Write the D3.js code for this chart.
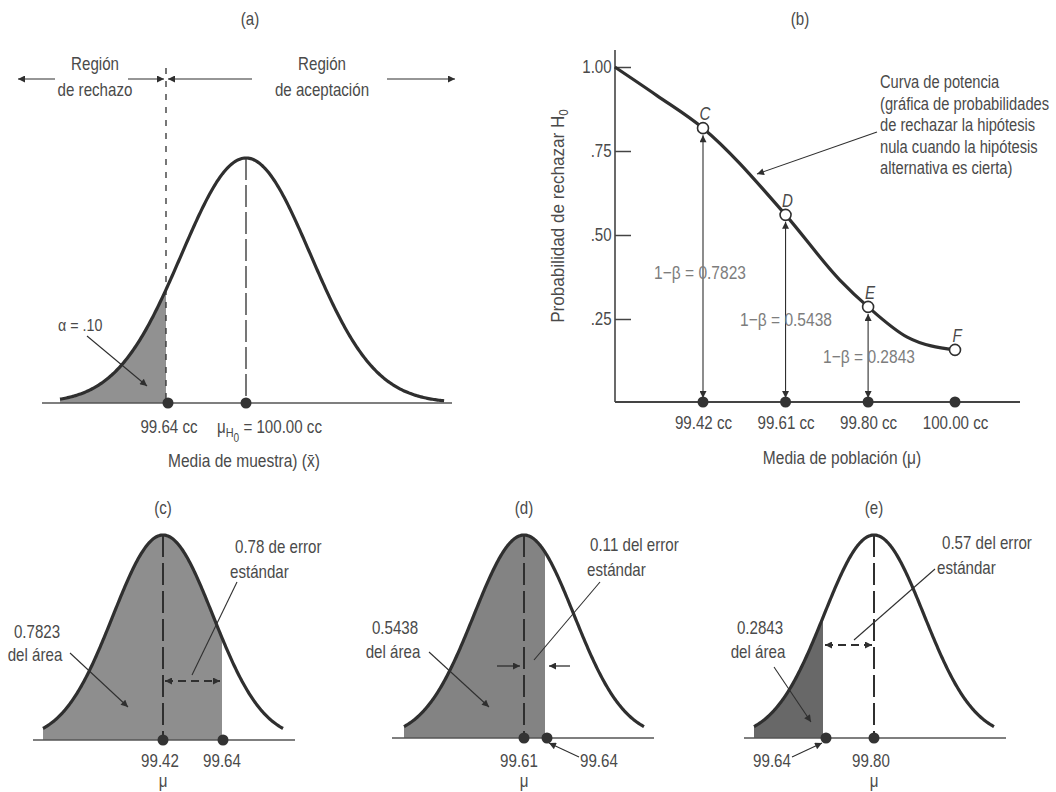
<!DOCTYPE html>
<html><head><meta charset="utf-8">
<script src="https://cdn.jsdelivr.net/npm/d3@7"></script>
<style>
html,body{margin:0;padding:0;background:#fff;}
svg{display:block;}
text{font-family:"Liberation Sans",Arial,Helvetica,sans-serif;fill:#4a4a4a;}
</style></head>
<body>
<svg id="chart" width="1056" height="792"></svg>
<script>
// ---------------- DATA ----------------
// Panel (a): sampling distribution under H0
const aMean = 100.00;
const aCutoff = 99.64;
const aSd = 0.29;            // standard error (display)
const aAlphaLabel = "α  =  .10";
const aTickLabels = ["99.64 cc", "100.00 cc"];

// Panel (b): power curve
const powerMu = [99.217, 99.314, 99.42, 99.61, 99.735, 99.80, 99.89, 100.00];
const powerP  = [1.00,   0.915,  0.818, 0.56,  0.366,  0.286, 0.196, 0.158];
const markMu = [99.42, 99.61, 99.80, 100.00];
const markP  = [0.818, 0.56, 0.286, 0.158];
const markLetters = ["C", "D", "E", "F"];
const markLabels = ["99.42 cc", "99.61 cc", "99.80 cc", "100.00 cc"];
const powerValues = [0.7823, 0.5438, 0.2843];
const yTickVals = [0.25, 0.50, 0.75, 1.00];
const yTickLabels = [".25", ".50", ".75", "1.00"];
const annotLines = ["Curva de potencia", "(gráfica de probabilidades", "de rechazar la hipótesis", "nula cuando la hipótesis", "alternativa es cierta)"];

// Panels (c), (d), (e): distributions under the alternative means
const altTitles = ["(c)", "(d)", "(e)"];
const altMeans = [99.42, 99.61, 99.80];
const altCutoff = 99.64;
const altAreas = ["0.7823", "0.5438", "0.2843"];
const altSeText = ["0.78 de error", "0.11 del error", "0.57 del error"];
const altMeanLabels = ["99.42", "99.61", "99.80"];
const altCutLabel = "99.64";

// ---------------- DRAW ----------------
const svg = d3.select("#chart");
const ink = "#2f2f2f";
const SX = 0.84;   // condensed type

const defs = svg.append("defs");
defs.append("marker").attr("id","arr").attr("viewBox","0 0 10 10")
  .attr("refX",10).attr("refY",5).attr("markerUnits","userSpaceOnUse")
  .attr("markerWidth",11).attr("markerHeight",7).attr("orient","auto-start-reverse")
  .append("path").attr("d","M0,0 L10,5 L0,10 Z").attr("fill",ink);

function line(g, x1,y1,x2,y2, opts={}) {
  const l = g.append("line").attr("x1",x1).attr("y1",y1).attr("x2",x2).attr("y2",y2)
    .attr("stroke", opts.color||ink).attr("stroke-width", opts.w||1.2);
  if (opts.dash) l.attr("stroke-dasharray", opts.dash);
  if (opts.end) l.attr("marker-end","url(#arr)");
  if (opts.start) l.attr("marker-start","url(#arr)");
  return l;
}
function txt(g, x, y, s, opts={}) {
  const t = g.append("text").attr("transform", `translate(${x},${y}) scale(${SX},1)`)
    .attr("font-size", opts.size||18).attr("text-anchor", opts.anchor||"middle")
    .style("fill", opts.color||"#4a4a4a").style("font-style", opts.italic?"italic":null);
  if (s !== null) t.text(s);
  return t;
}

// bell curve helper
function bell(g, cfg) {
  const {x, mean, sd, zLo, zHi, baseY, peakY, cutoff, fill} = cfg;
  const y = d3.scaleLinear().domain([0,1]).range([baseY, peakY]);
  const pts = d3.range(zLo, zHi + 1e-9, 0.02).map(z => [mean + z*sd, Math.exp(-z*z/2)]);
  const shadePts = pts.filter(p => p[0] <= cutoff);
  const zc = (cutoff - mean)/sd;
  shadePts.push([cutoff, Math.exp(-zc*zc/2)]);
  g.append("path").datum(shadePts)
    .attr("d", d3.area().x(d=>x(d[0])).y0(baseY).y1(d=>y(d[1])))
    .attr("fill", fill);
  g.append("path").datum(pts)
    .attr("d", d3.line().x(d=>x(d[0])).y(d=>y(d[1])))
    .attr("fill","none").attr("stroke",ink).attr("stroke-width",3.2);
  return y;
}

// ===== Panel (a) =====
{
  const g = svg.append("g");
  const x = d3.scaleLinear().domain([aCutoff, aMean]).range([166, 246]);
  const baseY = 403;
  txt(g, 250, 25, "(a)");
  txt(g, 95, 70, "Región");
  txt(g, 95, 96, "de rechazo");
  txt(g, 322, 70, "Región");
  txt(g, 322, 96, "de aceptación");
  line(g, 55, 79, 18, 79, {end:true});
  line(g, 128, 79, 164, 79, {end:true});
  line(g, 252, 79, 168, 79, {end:true});
  line(g, 387, 79, 455, 79, {end:true});
  const y = bell(g, {x, mean:aMean, sd:aSd, zLo:(x.invert(60)-aMean)/aSd, zHi:(x.invert(445)-aMean)/aSd,
    baseY, peakY:158, cutoff:aCutoff, fill:"#919191"});
  line(g, x(aCutoff), 68, x(aCutoff), baseY, {dash:"6,7", w:1.3});
  line(g, x(aMean), y(1), x(aMean), baseY, {dash:"22,5", w:1.3});
  line(g, 42, baseY, 452, baseY, {w:1.6, color:"#555"});
  [aCutoff, aMean].forEach(v => g.append("circle").attr("cx", x(v)+ (v===aCutoff?2:0)).attr("cy", baseY).attr("r",5.5).attr("fill","#333"));
  txt(g, 58, 331, aAlphaLabel, {anchor:"start", size:17});
  line(g, 87, 336, 147, 386, {end:true, w:1.1});
  txt(g, 169, 433, aTickLabels[0]);
  const t = txt(g, 217, 433, null, {anchor:"start"});
  t.append("tspan").text("μ");
  t.append("tspan").attr("dy",4).attr("font-size",13).text("H");
  t.append("tspan").attr("dy",5).attr("font-size",12).text("0");
  t.append("tspan").attr("dy",-9).text(" = " + aTickLabels[1]);
  txt(g, 244, 467, "Media de muestra) (x̄)", {size:18.5});
}

// ===== Panel (b) =====
{
  const g = svg.append("g");
  const x = d3.scaleLinear().domain([99.42, 100.00]).range([703, 955]);
  const y = d3.scaleLinear().domain([0, 1]).range([403, 67]);
  const axX = 615, baseY = 402;
  txt(g, 800, 25, "(b)");
  line(g, axX, 50, axX, baseY, {w:1.6, color:"#444"});
  line(g, axX, baseY, 1020, baseY, {w:1.8, color:"#444"});
  const ya = g.append("g").attr("transform", `translate(${axX},0)`)
    .call(d3.axisLeft(y).tickValues(yTickVals).tickSize(-16).tickPadding(4).tickFormat((d,i)=>yTickLabels[i]));
  ya.select(".domain").remove();
  ya.selectAll(".tick line").attr("stroke","#444").attr("stroke-width",1.5);
  ya.selectAll(".tick text").attr("font-size",18).attr("font-family",null).attr("transform",`scale(${SX},1)`).style("fill","#4a4a4a");
  const xa = g.append("g").attr("transform", `translate(0,${baseY})`)
    .call(d3.axisBottom(x).tickValues(markMu).tickSize(0).tickPadding(14).tickFormat((d,i)=>markLabels[i]));
  xa.select(".domain").remove();
  xa.selectAll(".tick text").attr("font-size",18).attr("font-family",null).attr("transform",`scale(${SX},1)`).style("fill","#4a4a4a");
  const yl = g.append("text").attr("transform",`translate(564,216) rotate(-90) scale(0.9,1)`)
    .attr("text-anchor","middle").attr("font-size",19).style("fill","#4a4a4a");
  yl.append("tspan").text("Probabilidad de rechazar H");
  yl.append("tspan").attr("dy",4).attr("font-size",13).text("0");
  txt(g, 842, 464, "Media de población (μ)", {size:18.5});
  powerValues.forEach((v,i) => {
    line(g, x(markMu[i]), baseY-4, x(markMu[i]), y(markP[i])+7, {start:true, end:true, w:1.1});
  });
  const betaPos = [[700,279],[786,326],[869,363]];
  powerValues.forEach((v,i) => {
    txt(g, betaPos[i][0], betaPos[i][1], "1−β = " + v.toFixed(4), {color:"#7d7d7d", size:18.5});
  });
  g.append("path").datum(powerMu.map((m,i)=>[m, powerP[i]]))
    .attr("d", d3.line().x(d=>x(d[0])).y(d=>y(d[1])).curve(d3.curveMonotoneX))
    .attr("fill","none").attr("stroke",ink).attr("stroke-width",3.2);
  markMu.forEach(m => g.append("circle").attr("cx",x(m)).attr("cy",baseY).attr("r",5.5).attr("fill","#333"));
  markMu.forEach((m,i) => {
    g.append("circle").attr("cx",x(m)).attr("cy",y(markP[i])).attr("r",5.5)
      .attr("fill","#fff").attr("stroke",ink).attr("stroke-width",1.6);
    txt(g, x(m)+2, y(markP[i])-8, markLetters[i], {size:18, italic:true});
  });
  annotLines.forEach((s,i) => txt(g, 880, 88 + i*21.6, s, {anchor:"start", size:17.5}));
  line(g, 877, 132, 757, 174, {end:true, w:1.1});
}

// ===== Panels (c), (d), (e) =====
const altLayout = [
  {meanX:163, cutX:222, baseY:740, x0:33, x1:295, shade:"#8e8e8e",
   area:[37,638,661], areaArrow:[70,653,128,707], se:[235,553,230,578], leader:[237,582,192,675],
   gap:{y:681, type:"out"}, meanLbl:[160], cutLbl:{x:222, anchor:"middle"}, cutArrow:null},
  {meanX:524, cutX:545, baseY:738, x0:392, x1:654, shade:"#838383",
   area:[395,634,658], areaArrow:[429,652,489,707], se:[590,551,587,576], leader:[600,582,534,660],
   gap:{y:666, type:"in"}, meanLbl:[519], cutLbl:{x:580, anchor:"start"}, cutArrow:[579,757,549,743]},
  {meanX:874, cutX:823, baseY:738, x0:744, x1:1006, shade:"#686868",
   area:[760,634,658], areaArrow:[774,667,811,722], se:[942,549,937,574], leader:[935,569,854,640],
   gap:{y:645, type:"out"}, meanLbl:[871], cutLbl:{x:772, anchor:"middle"}, cutArrow:[792,757,822,743]}
];
altMeans.forEach((mu, i) => {
  const L = altLayout[i];
  const g = svg.append("g");
  const x = d3.scaleLinear().domain([mu, altCutoff]).range([L.meanX, L.cutX]);
  const pxPerUnit = Math.abs(x(1) - x(0));
  const sd = 50 / pxPerUnit;           // display width of the bell
  txt(g, L.meanX, 514, altTitles[i]);
  const y = bell(g, {x, mean:mu, sd, zLo:-2.4, zHi:2.4, baseY:L.baseY, peakY:535, cutoff:altCutoff, fill:L.shade});
  line(g, x(mu), y(1), x(mu), L.baseY, {dash:"22,6", w:2});
  line(g, L.x0, L.baseY, L.x1, L.baseY, {w:1.5, color:"#555"});
  g.append("circle").attr("cx", x(mu)).attr("cy", L.baseY).attr("r",5.5).attr("fill","#333");
  g.append("circle").attr("cx", x(altCutoff) + (i===1?2:(i===2?3:1))).attr("cy", L.baseY).attr("r",5.5).attr("fill","#333");
  txt(g, L.area[0], L.area[1], altAreas[i]);
  txt(g, L.area[0]-2, L.area[2], "del área");
  line(g, L.areaArrow[0], L.areaArrow[1], L.areaArrow[2], L.areaArrow[3], {end:true, w:1.1});
  txt(g, L.se[0], L.se[1], altSeText[i], {anchor:"start"});
  txt(g, L.se[2], L.se[3], "estándar", {anchor:"start"});
  line(g, L.leader[0], L.leader[1], L.leader[2], L.leader[3], {w:1.1});
  const a = Math.min(x(mu), x(altCutoff)), b = Math.max(x(mu), x(altCutoff));
  if (L.gap.type === "out") {
    line(g, a+2, L.gap.y, b-2, L.gap.y, {start:true, end:true, dash:"8,5", w:2});
  } else {
    line(g, a-27, L.gap.y, a-4, L.gap.y, {end:true, w:1.3});
    line(g, b+25, L.gap.y, b+4, L.gap.y, {end:true, w:1.3});
  }
  txt(g, L.meanLbl[0], 767, altMeanLabels[i]);
  txt(g, L.cutLbl.x, 767, altCutLabel, {anchor:L.cutLbl.anchor});
  if (L.cutArrow) line(g, L.cutArrow[0], L.cutArrow[1], L.cutArrow[2], L.cutArrow[3], {end:true, w:1.1});
  txt(g, x(mu), 787, "μ");
});
</script>
</body></html>
